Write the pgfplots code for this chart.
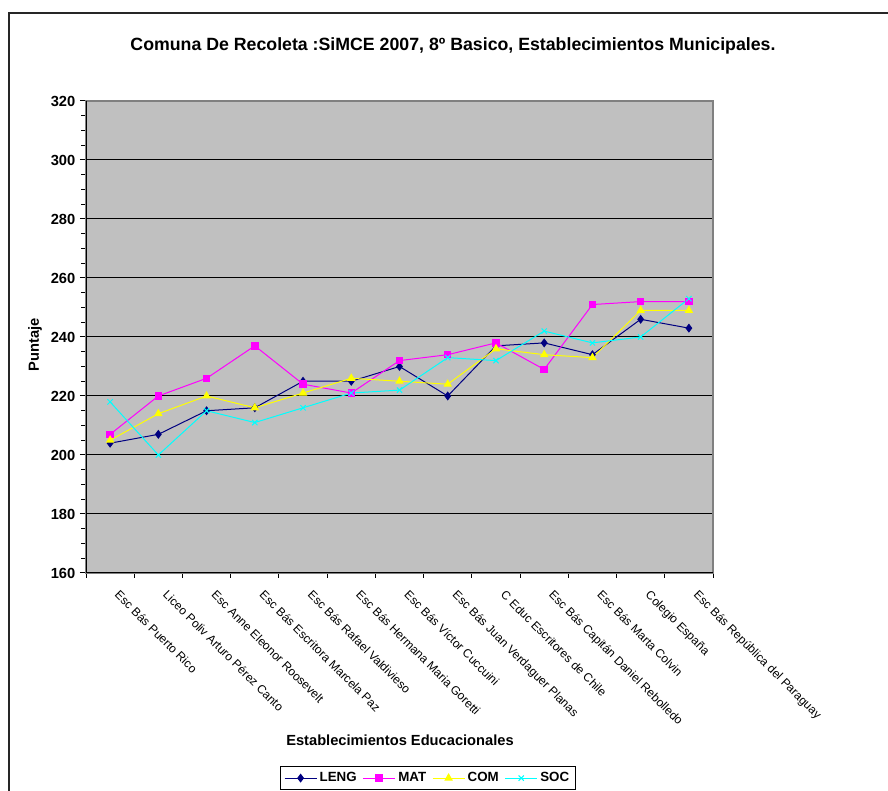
\documentclass[border=0pt]{standalone}
\usepackage{fontspec}
\setmainfont{Liberation Sans}
\usepackage{pgfplots}
\pgfplotsset{compat=1.18}
\definecolor{areagray}{HTML}{C0C0C0}
\definecolor{framegray}{HTML}{808080}
\definecolor{leng}{HTML}{000080}
\definecolor{mat}{HTML}{FF00FF}
\definecolor{com}{HTML}{FFFF00}
\definecolor{soc}{HTML}{00FFFF}

\begin{document}
\begin{tikzpicture}[x=0.75pt, y=0.75pt]
\useasboundingbox (0,0) rectangle (888,791);
\draw[line width=0.9pt, black!85] (9,0) -- (9,778) -- (888,778);

\node[font=\bfseries\fontsize{13.3}{15}\selectfont] at (453,745)
  {Comuna De Recoleta :SiMCE 2007, 8º Basico, Establecimientos Municipales.};
\node[font=\bfseries\fontsize{11}{13}\selectfont, rotate=90] at (35,446) {Puntaje};
\node[font=\bfseries\fontsize{11}{13}\selectfont] at (400,51) {Establecimientos Educacionales};

\begin{axis}[
  at={(64.5pt,163.5pt)}, anchor=south west,
  scale only axis,
  width=470.25pt, height=354pt,
  xmin=-0.5, xmax=12.5,
  ymin=160, ymax=320,
  ytick={160,180,...,320},
  minor y tick num=3,
  xtick={0,...,12},
  minor xtick={-0.5,0.5,...,12.5},
  xticklabels={
    Esc Bás Puerto Rico,
    Liceo Poliv Arturo Pérez Canto,
    Esc Anne Eleonor Roosevelt,
    Esc Bás Escritora Marcela Paz,
    Esc Bás Rafael Valdivieso,
    Esc Bás Hermana Maria Goretti,
    Esc Bás Víctor Cuccuini,
    Esc Bás Juan Verdaguer Planas,
    C Educ Escritores de Chile,
    Esc Bás Capitán Daniel Rebolledo,
    Esc Bás Marta Colvin,
    Colegio España,
    Esc Bás República del Paraguay},
  xticklabel style={rotate=-45, anchor=north west, inner sep=0pt,
    font=\fontsize{9}{11}\selectfont, xshift=11pt, yshift=0pt},
  yticklabel style={font=\bfseries\fontsize{11}{13}\selectfont},
  /pgf/number format/assume math mode=true,
  tick align=outside,
  xtick pos=bottom, ytick pos=left,
  major tick length=4.5pt,
  minor tick length=3.75pt,
  major x tick style={draw=none},
  tick style={black, line width=0.75pt},
  ymajorgrids,
  grid style={black, line width=0.75pt},
  axis background/.style={fill=areagray},
  axis line style={framegray, line width=1pt},
  legend style={at={(0.5455,-0.409)}, anchor=north, draw=black, fill=white,
    font=\bfseries\fontsize{10}{12}\selectfont, legend columns=4,
    inner sep=2.5pt, line width=0.6pt},
  legend cell align=left,
  legend image code/.code={
    \draw[mark repeat=2, mark phase=2] plot coordinates {(0cm,0cm) (0.42cm,0cm) (0.84cm,0cm)};},
  /tikz/every even column/.append style={column sep=2.5pt},
]
\addplot[leng, line width=0.75pt, mark=diamond*, mark size=2.8pt] coordinates {
  (0,204) (1,207) (2,215) (3,216) (4,225) (5,225) (6,230)
  (7,220) (8,237) (9,238) (10,234) (11,246) (12,243)};
\addlegendentry{LENG}
\addplot[mat, line width=0.75pt, mark=square*, mark size=2.4pt] coordinates {
  (0,207) (1,220) (2,226) (3,237) (4,224) (5,221) (6,232)
  (7,234) (8,238) (9,229) (10,251) (11,252) (12,252)};
\addlegendentry{MAT}
\addplot[com, line width=0.75pt, mark=triangle*, mark size=3pt] coordinates {
  (0,205) (1,214) (2,220) (3,216) (4,221) (5,226) (6,225)
  (7,224) (8,236) (9,234) (10,233) (11,249) (12,249)};
\addlegendentry{COM}
\addplot[soc, line width=0.75pt, mark=x, mark size=2.8pt] coordinates {
  (0,218) (1,200) (2,215) (3,211) (4,216) (5,221) (6,222)
  (7,233) (8,232) (9,242) (10,238) (11,240) (12,253)};
\addlegendentry{SOC}
\draw[black, line width=1pt] (rel axis cs:0,1) -- (rel axis cs:0,0) -- (rel axis cs:1,0);
\end{axis}
\end{tikzpicture}
\end{document}
